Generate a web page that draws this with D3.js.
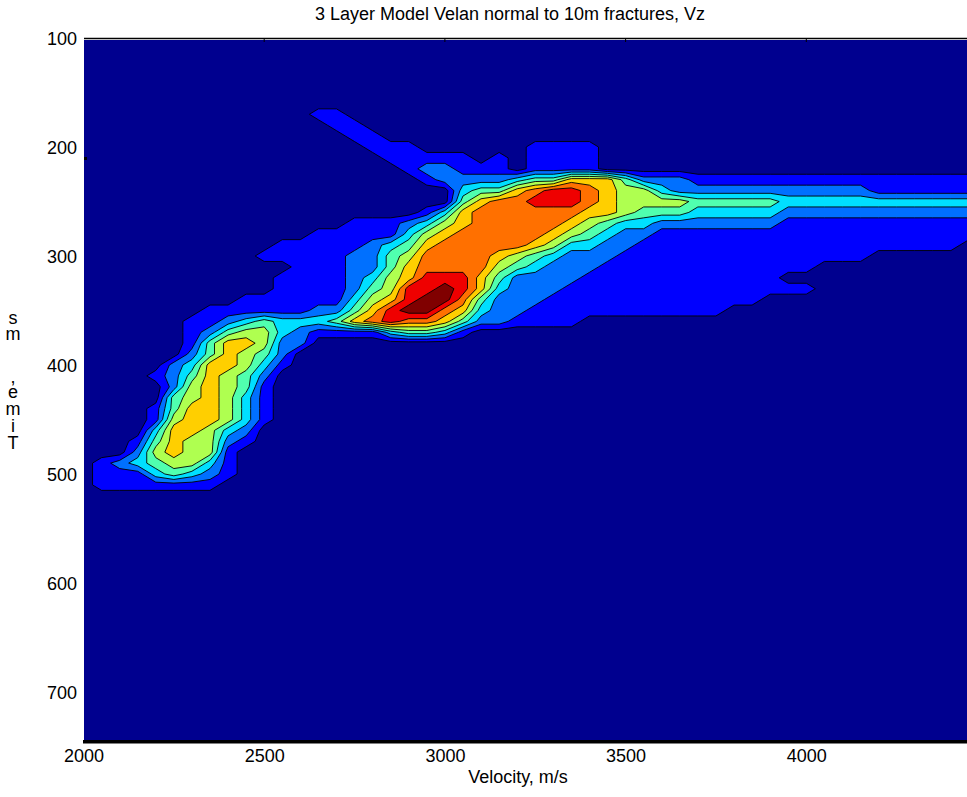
<!DOCTYPE html>
<html>
<head>
<meta charset="utf-8">
<title>3 Layer Model Velan normal to 10m fractures, Vz</title>
<script src="https://cdn.jsdelivr.net/npm/d3@7"></script>
<style>
  html, body { margin: 0; padding: 0; background: #fff; }
  svg text { font-family: "Liberation Sans", Arial, Helvetica, sans-serif; fill: #000; font-size: 18px; }
</style>
</head>
<body>
<svg id="chart" width="967" height="797"></svg>
<script>
// Velan grid: one column every 50 m/s, one row every 10 ms.
// Each digit is the contour band of that sample (0 = background ... 9 = peak).
var velocities = [2000, 2050, 2100, 2150, 2200, 2250, 2300, 2350, 2400, 2450,
                  2500, 2550, 2600, 2650, 2700, 2750, 2800, 2850, 2900, 2950,
                  3000, 3050, 3100, 3150, 3200, 3250, 3300, 3350, 3400, 3450,
                  3500, 3550, 3600, 3650, 3700, 3750, 3800, 3850, 3900, 3950,
                  4000, 4050, 4100, 4150, 4200, 4250, 4300, 4350, 4400, 4450];
var times = [150, 160, 170, 180, 190, 200, 210, 220, 230, 240,
             250, 260, 270, 280, 290, 300, 310, 320, 330, 340,
             350, 360, 370, 380, 390, 400, 410, 420, 430, 440,
             450, 460, 470, 480, 490, 500, 510, 520, 530];
var bandRows = [
  "00000000000000000000000000000000000000000000000000", // 150
  "00000000000000000000000000000000000000000000000000", // 160
  "00000000000001100000000000000000000000000000000000", // 170
  "00000000000000110000000000000000000000000000000000", // 180
  "00000000000000011000000000000000000000000000000000", // 190
  "00000000000000001110000001111000000000000000000000", // 200
  "00000000000000000111110101111000000000000000000000", // 210
  "00000000000000000012211101111000000000000000000000", // 220
  "00000000000000000001222234466642221111111111111111", // 230
  "00000000000000000000034467887655322222222222111111", // 240
  "00000000000000000000046778887655554444433333333333", // 250
  "00000000000000000001367777776654443333322222222222", // 260
  "00000000000000011123567777765433222222211111111111", // 270
  "00000000000001111135677777654322111111111111111111", // 280
  "00000000000111112346777776533221111111111111111110", // 290
  "00000000001111122457777654322211111111111111000000", // 300
  "00000000000011122467777543222111111111111000000000", // 310
  "00000000000111123568886422221111111111100000000000", // 320
  "00000000000111124588986322211111111111111000000000", // 330
  "00000000011111135689974222111111111111000000000000", // 340
  "00000001111112246899763221111111111100000000000000", // 350
  "00000011234333467877642211110000000000000000000000", // 360
  "00000012455321111344310000000000000000000000000000", // 370
  "00000014665220000000000000000000000000000000000000", // 380
  "00000024654200000000000000000000000000000000000000", // 390
  "00000236653100000000000000000000000000000000000000", // 400
  "00001246542000000000000000000000000000000000000000", // 410
  "00000256541000000000000000000000000000000000000000", // 420
  "00000456531000000000000000000000000000000000000000", // 430
  "00001466531000000000000000000000000000000000000000", // 440
  "00001566531000000000000000000000000000000000000000", // 450
  "00003665320000000000000000000000000000000000000000", // 460
  "00014655210000000000000000000000000000000000000000", // 470
  "00025655100000000000000000000000000000000000000000", // 480
  "01234553100000000000000000000000000000000000000000", // 490
  "01113432100000000000000000000000000000000000000000", // 500
  "01111111000000000000000000000000000000000000000000", // 510
  "00000000000000000000000000000000000000000000000000", // 520
  "00000000000000000000000000000000000000000000000000"  // 530
];

var thresholds = [0.5, 1.5, 2.5, 3.5, 4.5, 5.5, 6.5, 7.5, 8.5];
var bandColors = ["#00008f", "#0000ff", "#0070ff", "#00dfff", "#50ffaf",
                  "#afff50", "#ffcf00", "#ff7000", "#ef0000", "#800000"];
var xTicks = [2000, 2500, 3000, 3500, 4000];
var yTicks = [100, 200, 300, 400, 500, 600, 700];
var titleText = "3 Layer Model Velan normal to 10m fractures, Vz";
var xLabelText = "Velocity, m/s";
var yLabelText = "Time, ms";

var svg = d3.select("#chart");
var x = d3.scaleLinear().domain([2000, 4500]).range([83.5, 987]);
var y = d3.scaleLinear().domain([100, 750]).range([38, 746.5]);
var plotLeft = 84, plotRight = 967, plotTop = 40, plotBottom = 741;

svg.append("defs").append("clipPath").attr("id", "plot-clip")
  .append("rect")
    .attr("x", plotLeft).attr("y", plotTop)
    .attr("width", plotRight - plotLeft).attr("height", plotBottom - plotTop);

var values = [];
bandRows.forEach(function(row) {
  row.split("").forEach(function(ch) { values.push(+ch); });
});

var dv = velocities[1] - velocities[0];
var dt = times[1] - times[0];
// contour coords are in grid units with sample i at i + 0.5
var toScreen = d3.geoTransform({
  point: function(gx, gy) {
    this.stream.point(x(velocities[0] + (gx - 0.5) * dv), y(times[0] + (gy - 0.5) * dt));
  }
});
var path = d3.geoPath(toScreen);

var bands = d3.contours()
    .size([velocities.length, times.length])
    .thresholds(thresholds)(values);

var plot = svg.append("g").attr("clip-path", "url(#plot-clip)");

plot.append("rect")
    .attr("x", plotLeft).attr("y", plotTop)
    .attr("width", plotRight - plotLeft).attr("height", plotBottom - plotTop)
    .attr("fill", bandColors[0]);

plot.selectAll("path.band")
    .data(bands)
  .enter().append("path")
    .attr("class", "band")
    .attr("d", path)
    .attr("fill", function(d, i) { return bandColors[i + 1]; })
    .attr("stroke", "#000")
    .attr("stroke-width", 0.9)
    .attr("stroke-linejoin", "round");

// frame: thin top edge with inward ticks, heavy bottom edge
svg.append("line")
    .attr("x1", plotLeft).attr("x2", plotRight)
    .attr("y1", 38.5).attr("y2", 38.5)
    .attr("stroke", "#000").attr("stroke-width", 1.5);
svg.selectAll("line.tick-top")
    .data(xTicks.slice(1))
  .enter().append("line")
    .attr("class", "tick-top")
    .attr("x1", function(d) { return x(d); }).attr("x2", function(d) { return x(d); })
    .attr("y1", 38).attr("y2", 42)
    .attr("stroke", "#000").attr("stroke-width", 1);
svg.append("rect")
    .attr("x", plotLeft - 1).attr("y", plotBottom - 1)
    .attr("width", plotRight - plotLeft + 1).attr("height", 3.5)
    .attr("fill", "#000");
// small stray tick mark on the left edge
svg.append("rect")
    .attr("x", plotLeft).attr("y", 157)
    .attr("width", 3).attr("height", 3)
    .attr("fill", "#000");

var xAxis = svg.append("g")
    .attr("transform", "translate(0," + plotBottom + ")")
    .call(d3.axisBottom(x).tickValues(xTicks).tickSize(0).tickPadding(0).tickFormat(d3.format("d")));
xAxis.select(".domain").remove();
xAxis.selectAll("text").attr("dy", null).attr("y", 21);

var yAxis = svg.append("g")
    .attr("transform", "translate(" + plotLeft + ",0)")
    .call(d3.axisLeft(y).tickValues(yTicks).tickSize(0).tickPadding(7).tickFormat(d3.format("d")));
yAxis.select(".domain").remove();
yAxis.selectAll("text").attr("dy", "0.35em");

svg.append("text")
    .attr("x", 510).attr("y", 20)
    .attr("text-anchor", "middle")
    .text(titleText);

svg.append("text")
    .attr("x", 518).attr("y", 783)
    .attr("text-anchor", "middle")
    .text(xLabelText);

// the y label comes out as upright letters stacked bottom to top
var yChars = yLabelText.split("").reverse().filter(function(c) { return c !== " "; });
var yCharBase = [324, 340, 383, 398, 415, 432, 449];
svg.append("text")
    .attr("class", "ylab")
    .attr("text-anchor", "middle")
  .selectAll("tspan")
    .data(yChars)
  .enter().append("tspan")
    .attr("x", 13)
    .attr("y", function(d, i) { return yCharBase[i]; })
    .text(function(d) { return d; });
</script>
</body>
</html>
